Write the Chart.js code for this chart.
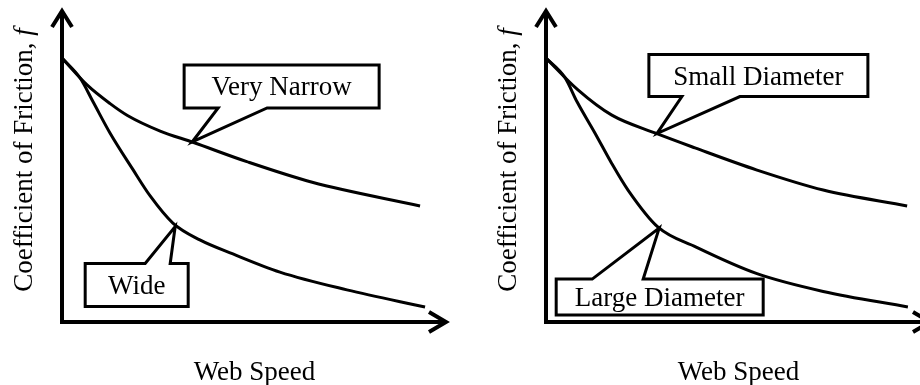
<!DOCTYPE html>
<html>
<head>
<meta charset="utf-8">
<script src="https://cdn.jsdelivr.net/npm/chart.js@4.4.1/dist/chart.umd.min.js"></script>
<style>
  html, body { margin: 0; padding: 0; background: #fff; overflow: hidden; }
  body { width: 920px; height: 385px; position: relative; }
  #left { position: absolute; left: 0; top: 0; }
  #right { position: absolute; left: 460px; top: 0; }
</style>
</head>
<body>
<canvas id="left" width="460" height="385"></canvas>
<canvas id="right" width="484" height="385"></canvas>
<script>
const FONT = '"Liberation Serif", "Times New Roman", serif';

// web speed (0-100 of the axis length) and friction (0-100 of the axis height)
const narrowSpeed = [0, 6.5, 12.5, 17, 25.5, 34, 48, 65, 93];
const narrowF = [84.6, 76, 70, 66.2, 61.2, 57.6, 51.4, 44.8, 37.2];
const wideSpeed = [0, 4.7, 8.1, 12.5, 18.4, 22.9, 28.8, 35.8, 44.4, 56.6, 74, 94.3];
const wideF = [84.6, 78.2, 70.5, 60.5, 48.9, 40.4, 31.7, 26.3, 21.8, 16, 10.3, 4.8];

// right panel: roller diameters
const smallSpeed = [0, 8.3, 17.1, 28.3, 38.7, 54.8, 72, 93.8];
const smallF = [84.6, 74.4, 66.3, 60.6, 55.8, 48.7, 42.3, 37.2];
const largeSpeed = [0, 4.9, 8.1, 12.7, 17, 21.3, 29.1, 39, 54.8, 72, 94];
const largeF = [84.6, 78.4, 70.5, 60.6, 51, 42.3, 30.4, 24.0, 15.5, 9.8, 4.8];

const xTitle = 'Web Speed';
const yTitle = 'Coefficient of Friction, ';
const yTitleSymbol = 'f';

function pts(xs, ys) {
    return xs.map((x, i) => ({ x: x, y: ys[i] }));
}

// draws arrowed axes, titles and the speech-bubble labels
const sketchPlugin = {
    id: 'sketch',
    afterDraw(chart, args, opts) {
        const ctx = chart.ctx;
        const a = chart.chartArea;
        const xs = chart.scales.x, ys = chart.scales.y;
        ctx.save();
        ctx.strokeStyle = '#000';
        ctx.fillStyle = '#000';
        ctx.lineJoin = 'miter';

        // callouts
        ctx.lineWidth = 3;
        opts.callouts.forEach(c => {
            const tx = xs.getPixelForValue(c.at[0]);
            const ty = ys.getPixelForValue(c.at[1]);
            const L = tx + c.box[0], T = ty + c.box[1];
            const R = L + c.box[2], B = T + c.box[3];
            const b1 = tx + c.base[0], b2 = tx + c.base[1];
            ctx.beginPath();
            if (c.side === 'bottom') {
                ctx.moveTo(L, T); ctx.lineTo(R, T); ctx.lineTo(R, B);
                ctx.lineTo(b2, B); ctx.lineTo(tx, ty); ctx.lineTo(b1, B);
                ctx.lineTo(L, B);
            } else {
                ctx.moveTo(L, T); ctx.lineTo(b1, T); ctx.lineTo(tx, ty);
                ctx.lineTo(b2, T); ctx.lineTo(R, T); ctx.lineTo(R, B);
                ctx.lineTo(L, B);
            }
            ctx.closePath();
            ctx.fillStyle = '#fff';
            ctx.fill();
            ctx.stroke();
            ctx.fillStyle = '#000';
            ctx.font = '27px ' + FONT;
            ctx.textAlign = 'center';
            ctx.textBaseline = 'alphabetic';
            ctx.fillText(c.text, (L + R) / 2, (T + B) / 2 + 9);
        });

        // axes with open arrow heads
        ctx.lineWidth = 4;
        ctx.beginPath();
        ctx.moveTo(a.left, a.top + 2);
        ctx.lineTo(a.left, a.bottom);
        ctx.lineTo(a.right - 2, a.bottom);
        ctx.stroke();
        ctx.beginPath();
        ctx.moveTo(a.left - 10, a.top + 17);
        ctx.lineTo(a.left, a.top + 1);
        ctx.lineTo(a.left + 10, a.top + 17);
        ctx.moveTo(a.right - 18, a.bottom - 10);
        ctx.lineTo(a.right - 1, a.bottom);
        ctx.lineTo(a.right - 18, a.bottom + 10);
        ctx.stroke();

        // x title
        ctx.font = '27px ' + FONT;
        ctx.textAlign = 'center';
        ctx.textBaseline = 'alphabetic';
        ctx.fillText(xTitle, (a.left + a.right) / 2, 380);

        // y title, italic f at the end
        ctx.translate(a.left - 30, 160);
        ctx.rotate(-Math.PI / 2);
        ctx.textAlign = 'left';
        ctx.font = '27px ' + FONT;
        const w1 = ctx.measureText(yTitle).width;
        ctx.font = 'italic 27px ' + FONT;
        const w2 = ctx.measureText(yTitleSymbol).width;
        const start = -(w1 + w2) / 2;
        ctx.font = '27px ' + FONT;
        ctx.fillText(yTitle, start, 0);
        ctx.font = 'italic 27px ' + FONT;
        ctx.fillText(yTitleSymbol, start + w1, 0);
        ctx.restore();
    }
};

function makeChart(id, upper, lower, padLeft, callouts) {
    return new Chart(document.getElementById(id), {
        type: 'line',
        data: {
            datasets: [
                { data: upper },
                { data: lower }
            ]
        },
        options: {
            responsive: false,
            animation: false,
            layout: { padding: { left: padLeft, right: 13, top: 10, bottom: 63 } },
            scales: {
                x: { type: 'linear', min: 0, max: 100, display: false },
                y: { type: 'linear', min: 0, max: 100, display: false }
            },
            elements: {
                point: { radius: 0 },
                line: { borderWidth: 3, borderColor: '#000', fill: false, cubicInterpolationMode: 'monotone' }
            },
            plugins: {
                legend: { display: false },
                tooltip: { enabled: false },
                sketch: { callouts: callouts }
            }
        },
        plugins: [sketchPlugin]
    });
}

makeChart('left', pts(narrowSpeed, narrowF), pts(wideSpeed, wideF), 62, [
    { text: 'Very Narrow', at: [33.8, 57.7], box: [-8, -77, 195, 43], base: [26, 75], side: 'bottom' },
    { text: 'Wide', at: [29.4, 30.6], box: [-90, 37, 103, 43], base: [-30, -5], side: 'top' }
]);

makeChart('right', pts(smallSpeed, smallF), pts(largeSpeed, largeF), 86, [
    { text: 'Small Diameter', at: [28.8, 60.4], box: [-8, -79, 219, 42], base: [25, 83], side: 'bottom' },
    { text: 'Large Diameter', at: [29.4, 30.1], box: [-103, 51, 207, 36], base: [-67, -16], side: 'top' }
]);
</script>
</body>
</html>
